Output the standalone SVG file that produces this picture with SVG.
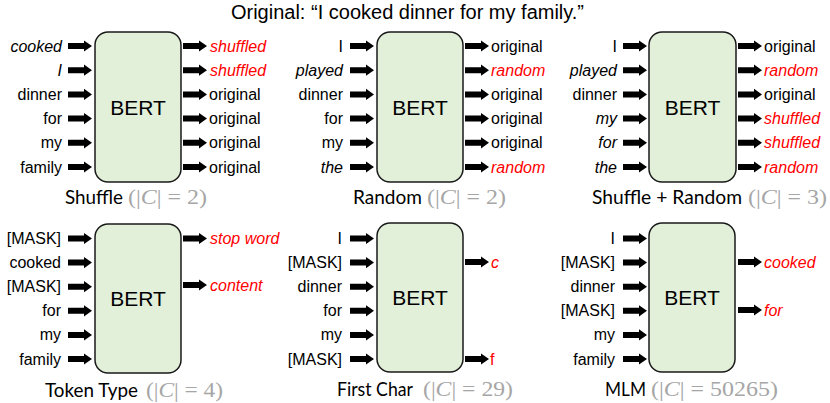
<svg xmlns="http://www.w3.org/2000/svg" xmlns:xlink="http://www.w3.org/1999/xlink" width="830" height="403" viewBox="0 0 830 403">
<style>
.box{fill:#e2efd9;stroke:#1a1a1a;stroke-width:1.5}
.bert{font-family:"Liberation Sans",Arial,sans-serif;font-size:21px;text-anchor:middle;fill:#000}
.in{font-family:"Liberation Sans",Arial,sans-serif;font-size:16px;text-anchor:end;fill:#000}
.out{font-family:"Liberation Sans",Arial,sans-serif;font-size:16px;text-anchor:start;fill:#000}
.i{font-style:italic}
.r{fill:#ff0000}
.cap{font-family:Lato,"Open Sans",sans-serif;font-size:20px;fill:#000}
.math{font-family:"Liberation Serif","DejaVu Serif",serif;font-size:21px;fill:#a6a6a6}
.title{font-family:"Liberation Sans",Arial,sans-serif;font-size:20px;text-anchor:middle;fill:#000}
.arr{fill:#000}
</style>
<defs>
<path id="a" class="arr" d="M0,-3 H16 V-5.6 L24,0 L16,5.6 V3 H0 Z"/>
</defs>
<text class="title" x="407.5" y="19">Original: “I cooked dinner for my family.”</text>

<g id="connectors">
<!-- Panel 1 inputs -->
<use xlink:href="#a" x="68" y="46"/><use xlink:href="#a" x="68" y="70.2"/><use xlink:href="#a" x="68" y="94.4"/><use xlink:href="#a" x="68" y="118.6"/><use xlink:href="#a" x="68" y="142.8"/><use xlink:href="#a" x="68" y="167"/>
<use xlink:href="#a" x="183" y="46"/><use xlink:href="#a" x="183" y="70.2"/><use xlink:href="#a" x="183" y="94.4"/><use xlink:href="#a" x="183" y="118.6"/><use xlink:href="#a" x="183" y="142.8"/><use xlink:href="#a" x="183" y="167"/>
<!-- Panel 2 -->
<use xlink:href="#a" x="350" y="46"/><use xlink:href="#a" x="350" y="70.2"/><use xlink:href="#a" x="350" y="94.4"/><use xlink:href="#a" x="350" y="118.6"/><use xlink:href="#a" x="350" y="142.8"/><use xlink:href="#a" x="350" y="167"/>
<use xlink:href="#a" x="465" y="46"/><use xlink:href="#a" x="465" y="70.2"/><use xlink:href="#a" x="465" y="94.4"/><use xlink:href="#a" x="465" y="118.6"/><use xlink:href="#a" x="465" y="142.8"/><use xlink:href="#a" x="465" y="167"/>
<!-- Panel 3 -->
<use xlink:href="#a" x="623" y="46"/><use xlink:href="#a" x="623" y="70.2"/><use xlink:href="#a" x="623" y="94.4"/><use xlink:href="#a" x="623" y="118.6"/><use xlink:href="#a" x="623" y="142.8"/><use xlink:href="#a" x="623" y="167"/>
<use xlink:href="#a" x="738" y="46"/><use xlink:href="#a" x="738" y="70.2"/><use xlink:href="#a" x="738" y="94.4"/><use xlink:href="#a" x="738" y="118.6"/><use xlink:href="#a" x="738" y="142.8"/><use xlink:href="#a" x="738" y="167"/>
<!-- Panel 4 -->
<use xlink:href="#a" x="68" y="238.5"/><use xlink:href="#a" x="68" y="262.6"/><use xlink:href="#a" x="68" y="286.7"/><use xlink:href="#a" x="68" y="310.8"/><use xlink:href="#a" x="68" y="334.9"/><use xlink:href="#a" x="68" y="359"/>
<use xlink:href="#a" x="183" y="238.5"/><use xlink:href="#a" x="183" y="285"/>
<!-- Panel 5 -->
<use xlink:href="#a" x="350" y="238.5"/><use xlink:href="#a" x="350" y="262.6"/><use xlink:href="#a" x="350" y="286.7"/><use xlink:href="#a" x="350" y="310.8"/><use xlink:href="#a" x="350" y="334.9"/><use xlink:href="#a" x="350" y="359"/>
<use xlink:href="#a" x="465" y="262"/><use xlink:href="#a" x="465" y="359"/>
<!-- Panel 6 -->
<use xlink:href="#a" x="623" y="238.5"/><use xlink:href="#a" x="623" y="262.6"/><use xlink:href="#a" x="623" y="286.7"/><use xlink:href="#a" x="623" y="310.8"/><use xlink:href="#a" x="623" y="334.9"/><use xlink:href="#a" x="623" y="359"/>
<use xlink:href="#a" x="738" y="262"/><use xlink:href="#a" x="738" y="310"/>
</g>

<g id="shuffle">
<rect class="box" x="95" y="32" width="86" height="150" rx="13"/>
<text class="bert" x="138" y="114.5">BERT</text>
<text class="in i" x="62" y="51.5">cooked</text>
<text class="in i" x="62" y="75.7">I</text>
<text class="in" x="62" y="99.9">dinner</text>
<text class="in" x="62" y="124.1">for</text>
<text class="in" x="62" y="148.3">my</text>
<text class="in" x="62" y="172.5">family</text>
<text class="out i r" x="210" y="51.5">shuffled</text>
<text class="out i r" x="210" y="75.7">shuffled</text>
<text class="out" x="209" y="99.9">original</text>
<text class="out" x="209" y="124.1">original</text>
<text class="out" x="209" y="148.3">original</text>
<text class="out" x="209" y="172.5">original</text>
<text class="cap" x="65" y="204" textLength="58" lengthAdjust="spacingAndGlyphs">Shuffle</text>
<text class="math" x="128" y="204" textLength="79" lengthAdjust="spacingAndGlyphs">(|<tspan font-style="italic">C</tspan>| = 2)</text>
</g>

<g id="random">
<rect class="box" x="377" y="32" width="86" height="150" rx="13"/>
<text class="bert" x="420" y="114.5">BERT</text>
<text class="in" x="343" y="51.5">I</text>
<text class="in i" x="343" y="75.7">played</text>
<text class="in" x="343" y="99.9">dinner</text>
<text class="in" x="343" y="124.1">for</text>
<text class="in" x="343" y="148.3">my</text>
<text class="in i" x="343" y="172.5">the</text>
<text class="out" x="491" y="51.5">original</text>
<text class="out i r" x="491" y="75.7">random</text>
<text class="out" x="491" y="99.9">original</text>
<text class="out" x="491" y="124.1">original</text>
<text class="out" x="491" y="148.3">original</text>
<text class="out i r" x="491" y="172.5">random</text>
<text class="cap" x="353" y="204" textLength="69" lengthAdjust="spacingAndGlyphs">Random</text>
<text class="math" x="427" y="204" textLength="79" lengthAdjust="spacingAndGlyphs">(|<tspan font-style="italic">C</tspan>| = 2)</text>
</g>

<g id="shuffle-random">
<rect class="box" x="649" y="32" width="87" height="150" rx="13"/>
<text class="bert" x="692.5" y="114.5">BERT</text>
<text class="in" x="617" y="51.5">I</text>
<text class="in i" x="617" y="75.7">played</text>
<text class="in" x="617" y="99.9">dinner</text>
<text class="in i" x="617" y="124.1">my</text>
<text class="in i" x="617" y="148.3">for</text>
<text class="in i" x="617" y="172.5">the</text>
<text class="out" x="764" y="51.5">original</text>
<text class="out i r" x="764" y="75.7">random</text>
<text class="out" x="764" y="99.9">original</text>
<text class="out i r" x="764" y="124.1">shuffled</text>
<text class="out i r" x="764" y="148.3">shuffled</text>
<text class="out i r" x="764" y="172.5">random</text>
<text class="cap" x="592" y="204" textLength="150" lengthAdjust="spacingAndGlyphs">Shuffle + Random</text>
<text class="math" x="748" y="204" textLength="79" lengthAdjust="spacingAndGlyphs">(|<tspan font-style="italic">C</tspan>| = 3)</text>
</g>

<g id="token-type">
<rect class="box" x="95" y="224" width="86" height="149" rx="13"/>
<text class="bert" x="138" y="306">BERT</text>
<text class="in" x="61" y="244">[MASK]</text>
<text class="in" x="61" y="268.1">cooked</text>
<text class="in" x="61" y="292.2">[MASK]</text>
<text class="in" x="61" y="316.3">for</text>
<text class="in" x="61" y="340.4">my</text>
<text class="in" x="61" y="364.5">family</text>
<text class="out i r" x="210" y="244">stop word</text>
<text class="out i r" x="210" y="290.5">content</text>
<text class="cap" x="45" y="396.5" textLength="93" lengthAdjust="spacingAndGlyphs">Token Type</text>
<text class="math" x="146" y="396.5" textLength="77" lengthAdjust="spacingAndGlyphs">(|<tspan font-style="italic">C</tspan>| = 4)</text>
</g>

<g id="first-char">
<rect class="box" x="377" y="223" width="86" height="149" rx="13"/>
<text class="bert" x="420" y="305">BERT</text>
<text class="in" x="342" y="244">I</text>
<text class="in" x="342" y="268.1">[MASK]</text>
<text class="in" x="342" y="292.2">dinner</text>
<text class="in" x="342" y="316.3">for</text>
<text class="in" x="342" y="340.4">my</text>
<text class="in" x="342" y="364.5">[MASK]</text>
<text class="out i r" x="491" y="267.5">c</text>
<text class="out r" x="490" y="364.5">f</text>
<text class="cap" x="337" y="396" textLength="76" lengthAdjust="spacingAndGlyphs">First Char</text>
<text class="math" x="423" y="396" textLength="90" lengthAdjust="spacingAndGlyphs">(|<tspan font-style="italic">C</tspan>| = 29)</text>
</g>

<g id="mlm">
<rect class="box" x="649" y="223" width="86" height="149" rx="13"/>
<text class="bert" x="692" y="305">BERT</text>
<text class="in" x="615" y="244">I</text>
<text class="in" x="615" y="268.1">[MASK]</text>
<text class="in" x="615" y="292.2">dinner</text>
<text class="in" x="615" y="316.3">[MASK]</text>
<text class="in" x="615" y="340.4">my</text>
<text class="in" x="615" y="364.5">family</text>
<text class="out i r" x="764" y="267.5">cooked</text>
<text class="out i r" x="764" y="315.5">for</text>
<text class="cap" x="605" y="396" textLength="41" lengthAdjust="spacingAndGlyphs">MLM</text>
<text class="math" x="651" y="396" textLength="127" lengthAdjust="spacingAndGlyphs">(|<tspan font-style="italic">C</tspan>| = 50265)</text>
</g>
</svg>
